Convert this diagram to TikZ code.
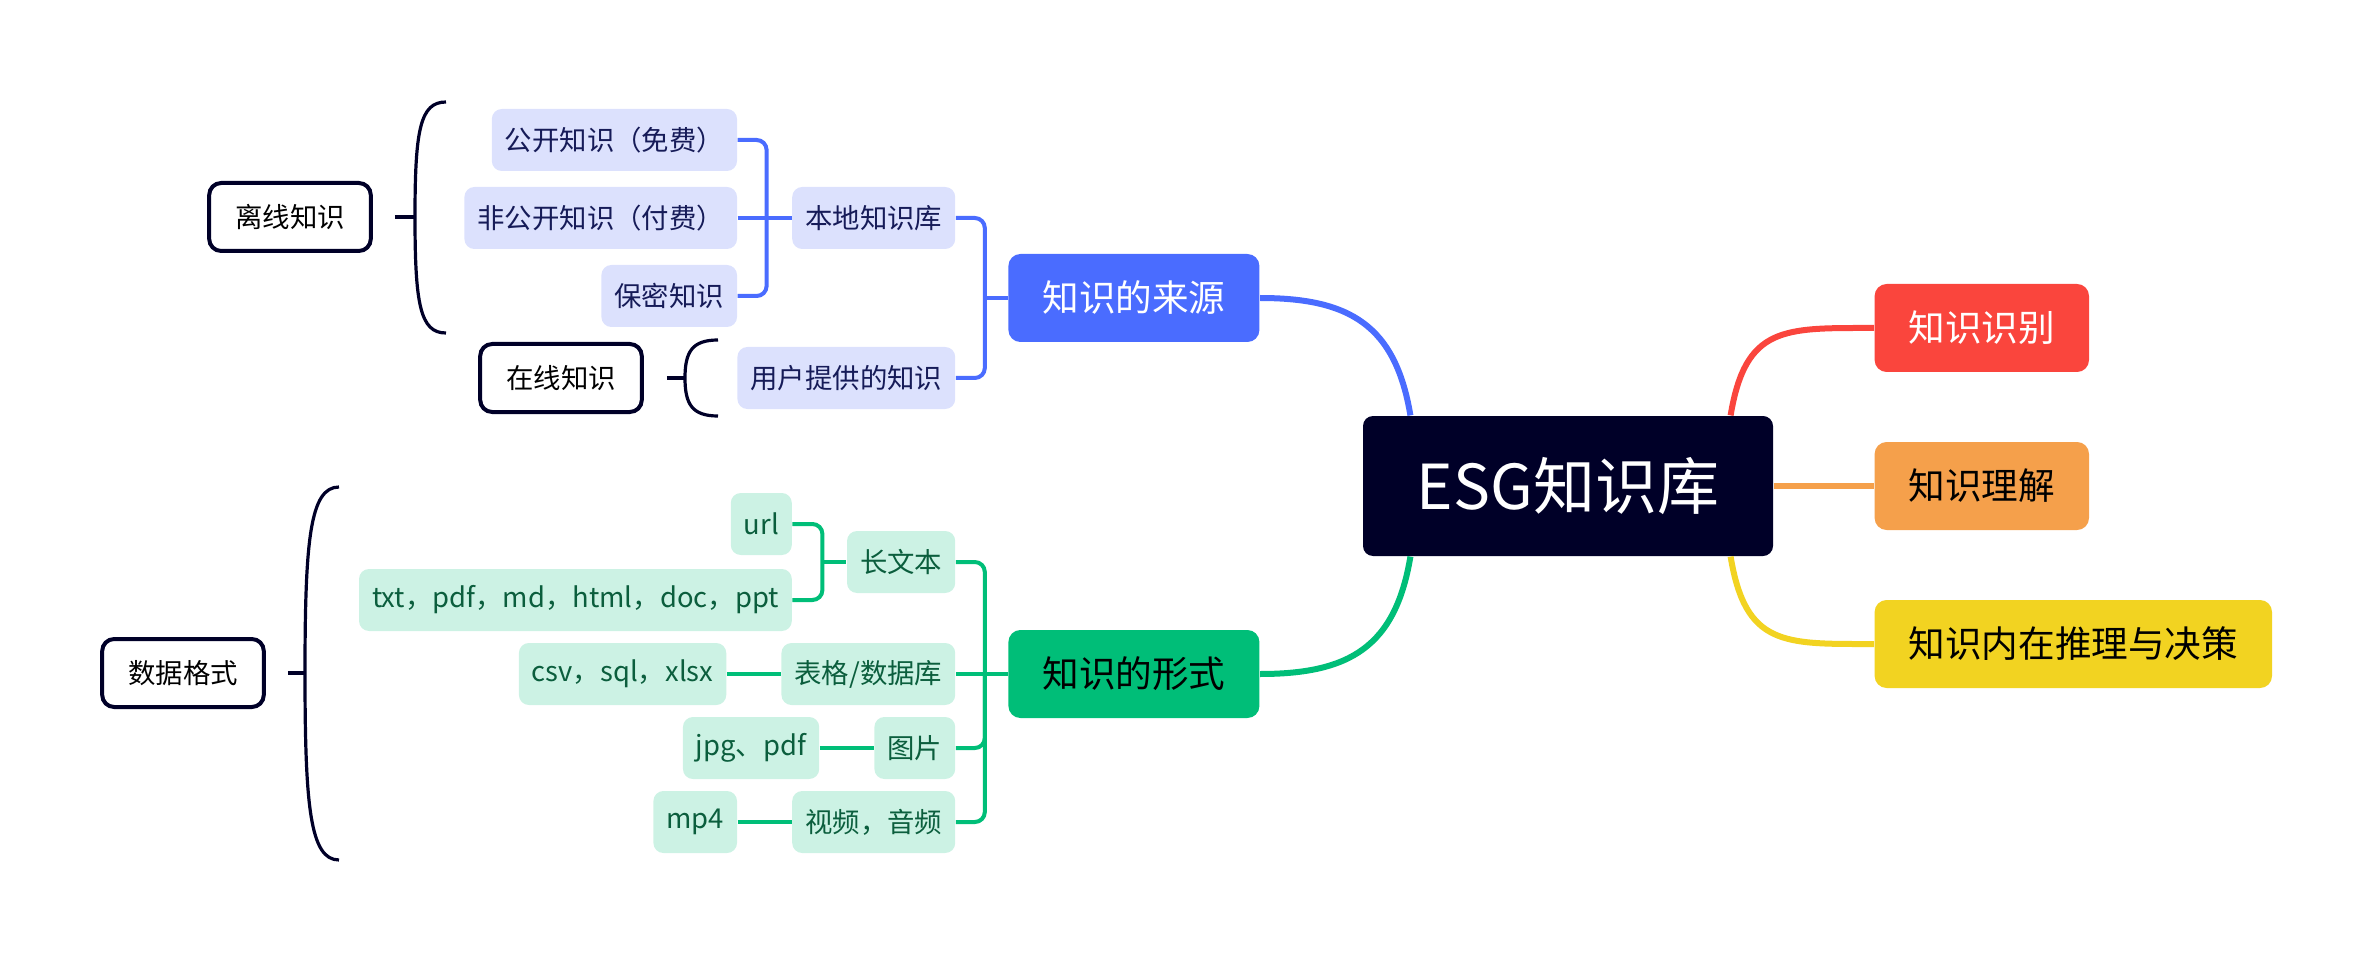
\documentclass[tikz,border=0pt]{standalone}
\usepackage{fontspec}
\setmainfont{Noto Sans CJK SC}
\usetikzlibrary{positioning}

\definecolor{navy}{HTML}{000028}
\definecolor{srcblue}{HTML}{4A6CFF}
\definecolor{bluelight}{HTML}{DCE1FD}
\definecolor{bluetext}{HTML}{161B58}
\definecolor{formgreen}{HTML}{00BE78}
\definecolor{greenlight}{HTML}{CCF2E4}
\definecolor{greentext}{HTML}{0B5E3D}
\definecolor{identred}{HTML}{FA453D}
\definecolor{undorange}{HTML}{F5A04B}
\definecolor{reasonyellow}{HTML}{F2D321}

\begin{document}
\begin{tikzpicture}[x=0.5pt,y=-0.5pt,node distance=27pt,semithick]
  \tikzstyle{mainbox}=[fill=navy,text=white,rounded corners=5pt,minimum width=205pt,
                       minimum height=70pt,font=\fontsize{31}{36}\selectfont]
  \tikzstyle{branchbox}=[rounded corners=6pt,minimum height=44pt,inner xsep=17pt,
                         font=\fontsize{18.3}{22}\selectfont]
  \tikzstyle{subbox}=[rounded corners=5pt,minimum height=31pt,inner xsep=6.5pt,
                      font=\fontsize{13.7}{16}\selectfont]
  \tikzstyle{bluesub}=[subbox,fill=bluelight,text=bluetext]
  \tikzstyle{greensub}=[subbox,fill=greenlight,text=greentext]
  \tikzstyle{tagbox}=[draw=navy,line width=2pt,rounded corners=6pt,minimum height=34pt,
                      inner xsep=13pt,font=\fontsize{13.7}{16}\selectfont]
  \tikzstyle{mainline}=[line width=3pt]
  \tikzstyle{bluelink}=[srcblue,line width=2pt,rounded corners=5pt]
  \tikzstyle{greenlink}=[formgreen,line width=2pt,rounded corners=5pt]
  \tikzstyle{bracket}=[navy,line width=1.6pt]

  \useasboundingbox (0,0) rectangle (2370,962);

  % centre and first level
  \node[mainbox] (esg) at (1568,486) {ESG知识库};
  \node[branchbox,fill=srcblue,text=white,anchor=east] (src) at (1260,298) {知识的来源};
  \node[branchbox,fill=formgreen,text=black,anchor=east] (form) at (1260,674) {知识的形式};
  \node[branchbox,fill=identred,text=white,anchor=west] (ident) at (1874,328) {知识识别};
  \node[branchbox,fill=undorange,text=black,anchor=west] (under) at (1874,486) {知识理解};
  \node[branchbox,fill=reasonyellow,text=black,anchor=west] (reason) at (1874,644) {知识内在推理与决策};

  % sources
  \node[bluesub] (local)   [left=26pt of src,yshift=40pt]  {本地知识库};
  \node[bluesub] (user)    [left=26pt of src,yshift=-40pt] {用户提供的知识};
  \node[bluesub] (public)  [left=of local,yshift=39pt]     {公开知识（免费）};
  \node[bluesub] (private) [left=of local]                 {非公开知识（付费）};
  \node[bluesub] (secret)  [left=of local,yshift=-39pt]    {保密知识};

  % forms
  \node[greensub] (long)  [left=26pt of form,yshift=56pt]  {长文本};
  \node[greensub] (table) [left=26pt of form]              {表格/数据库};
  \node[greensub] (image) [left=26pt of form,yshift=-37pt] {图片};
  \node[greensub] (media) [left=26pt of form,yshift=-74pt] {视频，音频};
  \node[greensub] (url)   [left=of long,yshift=19pt]       {url};
  \node[greensub] (files) [left=of long,yshift=-19pt]      {txt，pdf，md，html，doc，ppt};
  \node[greensub] (csv)   [left=of table]                  {csv，sql，xlsx};
  \node[greensub] (jpg)   [left=of image]                  {jpg、pdf};
  \node[greensub] (mp4)   [left=of media]                  {mp4};

  % summary tags
  \node[tagbox] (offline) at (290,217) {离线知识};
  \node[tagbox] (online)  at (561,378) {在线知识};
  \node[tagbox] (format)  at (183,673) {数据格式};

  % main curves
  \draw[mainline,srcblue] ([xshift=24pt]esg.north west)
        .. controls +(-15,-90) and +(90,0) .. (src.east);
  \draw[mainline,formgreen] ([xshift=24pt]esg.south west)
        .. controls +(-15,90) and +(90,0) .. (form.east);
  \draw[mainline,identred] ([xshift=-21.5pt]esg.north east)
        .. controls +(15,-90) and +(-90,0) .. (ident.west);
  \draw[mainline,undorange] (esg.east) -- (under.west);
  \draw[mainline,reasonyellow] ([xshift=-21.5pt]esg.south east)
        .. controls +(15,90) and +(-90,0) .. (reason.west);

  % source links
  \coordinate (srcfork) at ([xshift=-11.5pt]src.west);
  \draw[bluelink] (local.east) -| (srcfork) |- (user.east);
  \draw[bluelink] (srcfork) -- (src.west);
  \coordinate (localfork) at ([xshift=-12.5pt]local.west);
  \draw[bluelink] (public.east) -| (localfork) |- (secret.east);
  \draw[bluelink] (private.east) -- (local.west);

  % form links
  \coordinate (formfork) at ([xshift=-11.5pt]form.west);
  \draw[greenlink] (long.east) -| (formfork) |- (media.east);
  \draw[greenlink] (image.east) -| (formfork);
  \draw[greenlink] (table.east) -- (form.west);
  \coordinate (longfork) at ([xshift=-12pt]long.west);
  \draw[greenlink] (url.east) -| (longfork) |- (files.east);
  \draw[greenlink] (longfork) -- (long.west);
  \draw[greenlink] (csv) -- (table);
  \draw[greenlink] (jpg) -- (image);
  \draw[greenlink] (mp4) -- (media);

  % brackets
  \draw[bracket] ([xshift=11pt]offline.east) -- ++(10.5pt,0);
  \draw[bracket] (446,102) .. controls (420,102) and (415,130) .. (415,217)
                 .. controls (415,304) and (420,333) .. (446,333);
  \draw[bracket] ([xshift=11.5pt]online.east) -- ++(9.5pt,0);
  \draw[bracket] (718,340) .. controls (692,340) and (685,352) .. (685,378)
                 .. controls (685,404) and (692,416) .. (718,416);
  \draw[bracket] ([xshift=11pt]format.east) -- ++(8.5pt,0);
  \draw[bracket] (339,487) .. controls (310,487) and (305,540) .. (305,673)
                 .. controls (305,806) and (310,860) .. (339,860);
\end{tikzpicture}
\end{document}
